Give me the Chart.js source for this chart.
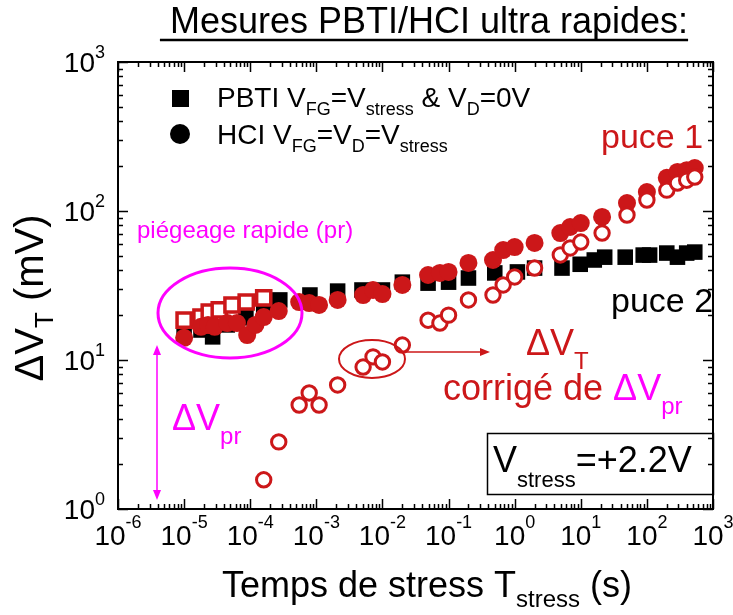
<!DOCTYPE html>
<html>
<head>
<meta charset="utf-8">
<script src="https://cdn.jsdelivr.net/npm/chart.js@4.4.1/dist/chart.umd.min.js"></script>
<style>
  html, body { margin: 0; padding: 0; background: #fff; }
  #wrap { width: 733px; height: 615px; }
</style>
</head>
<body>
<div id="wrap"><canvas id="chart" width="733" height="615"></canvas></div>
<script>
// PBTI (puce 2), filled black squares
const pbtiTime = [1e-5, 1.8e-5, 2.7e-5, 4.5e-5, 8.6e-5, 1.6e-4, 2.8e-4, 8e-4, 2.1e-3, 4.9e-3,
  1e-2, 2e-2, 4.9e-2, 0.1, 0.2, 0.5, 1.1, 2, 5.2, 9.8, 16, 23, 47, 88, 110, 200, 290, 400, 530];
const pbtiDv = [15.9, 15.9, 14.3, 17.2, 19.2, 22.4, 25.3, 27.3, 29, 29.5,
  29.5, 33.3, 32.8, 33.3, 35.5, 38.4, 39, 41.4, 41.4, 43.9, 46.9, 49, 49, 50.6, 50.6, 52.2, 49, 52.2, 53];

// HCI (puce 1), filled red circles
const hciTime = [1e-5, 1.8e-5, 2.3e-5, 2.9e-5, 4.5e-5, 6.3e-5, 9e-5, 1.2e-4, 1.6e-4, 2.7e-4,
  5.5e-4, 7.8e-4, 1.1e-3, 2.1e-3, 5.1e-3, 7.2e-3, 1e-2, 2e-2, 4.9e-2, 7.4e-2,
  0.1, 0.2, 0.47, 0.67, 1, 2, 4.9, 6.9, 10, 21, 50, 100, 200, 290, 400, 530];
const hciDv = [14.1, 16.7, 17.2, 16.7, 17.7, 17.7, 14.7, 17.2, 19.4, 21.3,
  24.5, 24.1, 23.4, 25.3, 27.3, 29.5, 27.7, 31.9, 37.2, 38.4,
  39, 44.8, 46.9, 54.7, 57.3, 61, 71.1, 78.1, 83, 91.2, 113, 134, 167, 183, 188, 194];

// HCI corrige de dVpr, open red circles
const corrTime = [1.6e-4, 2.7e-4, 5.5e-4, 7.8e-4, 1.1e-3, 2.1e-3, 5.1e-3, 7.2e-3, 1e-2, 2e-2,
  4.9e-2, 7.4e-2, 0.1, 0.2, 0.47, 0.67, 1, 2, 4.9, 6.9, 10, 21, 50, 100, 200, 290, 400, 530];
const corrDv = [1.57, 2.82, 4.99, 6.01, 4.99, 6.8, 8.97, 10.5, 9.7, 12.6,
  18.5, 17.7, 20, 25.3, 27.3, 31.9, 36.1, 41.4, 50.7, 56.5, 61.9, 71.1, 94, 118.5, 138, 154, 161, 169];

// piegeage rapide, open red squares
const prTime = [1e-5, 1.8e-5, 2.4e-5, 3.4e-5, 5.3e-5, 8.7e-5, 1.6e-4];
const prDv = [18.5, 19.4, 21.0, 21.7, 23.4, 24.5, 26.1];

// axis decades
const xExps = [-6, -5, -4, -3, -2, -1, 0, 1, 2, 3];
const yExps = [0, 1, 2, 3];

const FONT = '"Liberation Sans", Arial, sans-serif';
const RED = '#cc1719';
const MAG = '#ff00ff';

function pts(xs, ys) {
  return xs.map((x, i) => ({ x: x, y: ys[i] }));
}

// draw a line of text made of parts: [text, size, dy, color]
function rich(ctx, x, y, parts, align) {
  let w = 0;
  parts.forEach(p => { ctx.font = p[1] + 'px ' + FONT; w += ctx.measureText(p[0]).width; });
  let cx = align === 'center' ? x - w / 2 : (align === 'right' ? x - w : x);
  const start = cx;
  parts.forEach(p => {
    ctx.font = p[1] + 'px ' + FONT;
    ctx.fillStyle = p[3] || '#000';
    ctx.fillText(p[0], cx, y + (p[2] || 0));
    cx += ctx.measureText(p[0]).width;
  });
  return [start, cx];
}

function arrowHead(ctx, x, y, dir, color) {
  ctx.fillStyle = color;
  ctx.beginPath();
  if (dir === 'up') { ctx.moveTo(x, y); ctx.lineTo(x - 4, y + 10); ctx.lineTo(x + 4, y + 10); }
  if (dir === 'down') { ctx.moveTo(x, y); ctx.lineTo(x - 4, y - 10); ctx.lineTo(x + 4, y - 10); }
  if (dir === 'right') { ctx.moveTo(x, y); ctx.lineTo(x - 10, y - 4); ctx.lineTo(x - 10, y + 4); }
  ctx.closePath();
  ctx.fill();
}

const decor = {
  id: 'decor',
  afterDraw(chart) {
    const ctx = chart.ctx;
    const a = chart.chartArea;
    const xs = chart.scales.x;
    const ys = chart.scales.y;
    ctx.save();
    ctx.textBaseline = 'alphabetic';

    // frame
    ctx.strokeStyle = '#000';
    ctx.lineWidth = 2;
    ctx.strokeRect(a.left, a.top, a.right - a.left, a.bottom - a.top);

    // inward ticks on all four sides
    ctx.lineWidth = 1.5;
    ctx.beginPath();
    xExps.forEach(e => {
      const ms = e === 3 ? [1] : [1, 2, 3, 4, 5, 6, 7, 8, 9];
      ms.forEach(m => {
        const px = Math.round(xs.getPixelForValue(m * Math.pow(10, e))) + 0.5;
        const len = m === 1 ? 10 : 5;
        ctx.moveTo(px, a.bottom); ctx.lineTo(px, a.bottom - len);
        ctx.moveTo(px, a.top); ctx.lineTo(px, a.top + len);
      });
    });
    yExps.forEach(e => {
      const ms = e === 3 ? [1] : [1, 2, 3, 4, 5, 6, 7, 8, 9];
      ms.forEach(m => {
        const py = Math.round(ys.getPixelForValue(m * Math.pow(10, e))) + 0.5;
        const len = m === 1 ? 10 : 5;
        ctx.moveTo(a.left, py); ctx.lineTo(a.left + len, py);
        ctx.moveTo(a.right, py); ctx.lineTo(a.right - len, py);
      });
    });
    ctx.stroke();

    // tick labels
    xExps.forEach(e => {
      const px = xs.getPixelForValue(Math.pow(10, e));
      rich(ctx, px, a.bottom + 36, [['10', 28], [String(e), 18, -17]], 'center');
    });
    yExps.forEach(e => {
      const py = ys.getPixelForValue(Math.pow(10, e));
      rich(ctx, a.left - 13, py + 10, [['10', 28], [String(e), 18, -14]], 'right');
    });

    // title, underlined
    const t = rich(ctx, 424, 33, [[' Mesures PBTI/HCI ultra rapides:', 36]], 'center');
    ctx.lineWidth = 2.5;
    ctx.beginPath(); ctx.moveTo(t[0], 40); ctx.lineTo(t[1], 40); ctx.stroke();

    // axis titles
    rich(ctx, 427, 597, [['Temps de stress T', 36], ['stress', 24, 10], [' (s)', 36]], 'center');
    ctx.save();
    ctx.translate(43, 298);
    ctx.rotate(-Math.PI / 2);
    rich(ctx, 0, 0, [['\u0394V', 40], ['T', 26, 10], [' (mV)', 40]], 'center');
    ctx.restore();

    // legend
    ctx.fillStyle = '#000';
    ctx.fillRect(172, 90, 17, 17);
    ctx.beginPath(); ctx.arc(180, 134, 10, 0, Math.PI * 2); ctx.fill();
    rich(ctx, 217, 107, [['PBTI V', 28], ['FG', 18, 8], ['=V', 28], ['stress', 18, 8],
      [' & V', 28], ['D', 18, 8], ['=0V', 28]]);
    rich(ctx, 217, 144, [['HCI V', 28], ['FG', 18, 8], ['=V', 28], ['D', 18, 8],
      ['=V', 28], ['stress', 18, 8]]);

    // puce labels
    rich(ctx, 601, 148, [['puce 1', 34, 0, RED]]);
    rich(ctx, 611, 312, [['puce 2', 34]]);

    // fast trapping annotation
    rich(ctx, 137, 238, [['pi\u00e9geage rapide (pr)', 24, 0, MAG]]);
    ctx.strokeStyle = MAG;
    ctx.lineWidth = 3;
    ctx.beginPath(); ctx.ellipse(230, 313, 72, 45, 0, 0, Math.PI * 2); ctx.stroke();
    ctx.lineWidth = 1.5;
    ctx.beginPath(); ctx.moveTo(157, 352); ctx.lineTo(157, 493); ctx.stroke();
    arrowHead(ctx, 157, 345, 'up', MAG);
    arrowHead(ctx, 157, 500, 'down', MAG);
    rich(ctx, 172, 430, [['\u0394V', 36, 0, MAG], ['pr', 24, 14, MAG]]);

    // corrected annotation
    ctx.strokeStyle = RED;
    ctx.lineWidth = 2;
    ctx.beginPath(); ctx.ellipse(372, 359, 33, 19, 0, 0, Math.PI * 2); ctx.stroke();
    ctx.lineWidth = 1.5;
    ctx.beginPath(); ctx.moveTo(406, 352); ctx.lineTo(482, 352); ctx.stroke();
    arrowHead(ctx, 490, 352, 'right', RED);
    rich(ctx, 526, 355, [['\u0394V', 36, 0, RED], ['T', 24, 14, RED]]);
    rich(ctx, 443, 400, [['corrig\u00e9 de ', 36, 0, RED], ['\u0394V', 36, 0, MAG], ['pr', 24, 14, MAG]]);

    // stress box
    ctx.strokeStyle = '#000';
    ctx.lineWidth = 1.5;
    ctx.strokeRect(487.5, 433.5, 226, 61);
    rich(ctx, 493, 472, [['V', 36], ['stress', 22, 15], ['=+2.2V', 36]]);

    ctx.restore();
  }
};

new Chart(document.getElementById('chart'), {
  type: 'scatter',
  data: {
    datasets: [
      {
        label: 'HCI corrige',
        data: pts(corrTime, corrDv),
        pointStyle: 'circle',
        pointRadius: 7.2,
        backgroundColor: '#fff',
        borderColor: RED,
        borderWidth: 3,
        order: 0
      },
      {
        label: 'HCI',
        data: pts(hciTime, hciDv),
        pointStyle: 'circle',
        pointRadius: 9,
        backgroundColor: RED,
        borderColor: RED,
        borderWidth: 0,
        order: 1
      },
      {
        label: 'HCI pr',
        data: pts(prTime, prDv),
        pointStyle: 'rect',
        pointRadius: 10,
        backgroundColor: '#fff',
        borderColor: RED,
        borderWidth: 3.5,
        order: 2
      },
      {
        label: 'PBTI',
        data: pts(pbtiTime, pbtiDv),
        pointStyle: 'rect',
        pointRadius: 11,
        backgroundColor: '#000',
        borderColor: '#000',
        borderWidth: 0,
        order: 3
      }
    ]
  },
  options: {
    responsive: false,
    devicePixelRatio: 1,
    animation: false,
    layout: { padding: { left: 118, right: 20, top: 62, bottom: 106 } },
    plugins: { legend: { display: false }, tooltip: { enabled: false } },
    scales: {
      x: { type: 'logarithmic', min: 1e-6, max: 1e3, display: false },
      y: { type: 'logarithmic', min: 1, max: 1e3, display: false }
    }
  },
  plugins: [decor]
});
</script>
</body>
</html>
